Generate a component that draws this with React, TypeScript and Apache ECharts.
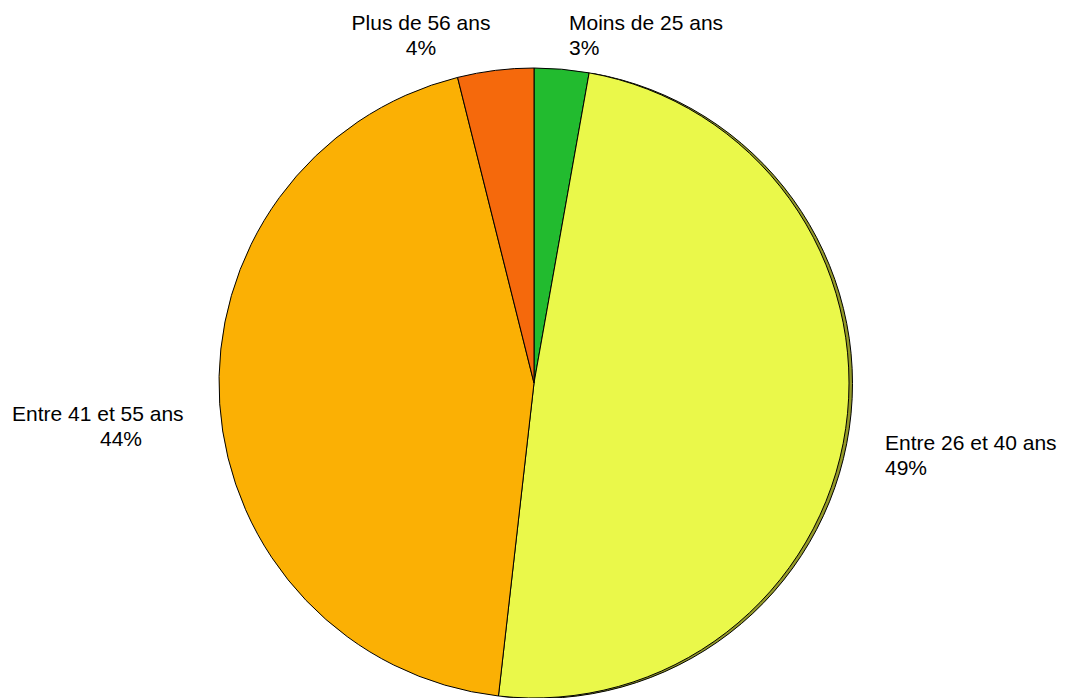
import React, { useEffect, useRef } from "react";
import * as echarts from "echarts";

const categories = ["Moins de 25 ans", "Entre 26 et 40 ans", "Entre 41 et 55 ans", "Plus de 56 ans"];
const values = [2.8, 49.0, 44.3, 3.9];
const colors = ["#22bb2f", "#eaf84a", "#fbb004", "#f5690c"];
// label anchor positions [x, y, align]
const labelPos: [number, number, string][] = [
  [569, 22, "left"],
  [885, 442, "left"],
  [12, 413, "left"],
  [421, 22, "center"],
];

export default function App() {
  const ref = useRef<HTMLDivElement>(null);
  useEffect(() => {
    const chart = echarts.init(ref.current!, null, { renderer: "svg" });
    const cx = 534;
    const cy = 383;
    const r = 315;
    const font = "Liberation Sans, Arial, sans-serif";
    chart.setOption({
      animation: false,
      backgroundColor: "#ffffff",
      series: [
        {
          type: "pie",
          silent: true,
          center: [cx + 3.5, cy + 0.5],
          radius: r,
          startAngle: 90,
          clockwise: true,
          label: { show: false },
          labelLine: { show: false },
          data: categories.map((c, i) => ({
            name: c,
            value: values[i],
            itemStyle:
              i === 1
                ? { color: "#959a28", borderColor: "#000", borderWidth: 1 }
                : { color: "rgba(0,0,0,0)", borderWidth: 0 },
          })),
          z: 1,
        },
        {
          type: "pie",
          center: [cx, cy],
          radius: r,
          startAngle: 90,
          clockwise: true,
          z: 2,
          itemStyle: { borderColor: "#000", borderWidth: 1 },
          labelLine: { show: false },
          label: {
            show: true,
            position: "outside",
            fontFamily: font,
            fontSize: 21,
            color: "#000",
            lineHeight: 25,
            overflow: "none",
            width: 400,
            alignTo: "none",
            formatter: (p: any) => {
              if (p.dataIndex === 2) return `${p.name}\n{pad|}${Math.round(p.percent)}%`;
              return `${p.name}\n${Math.round(p.percent)}%`;
            },
            rich: {
              pad: { width: 88, fontSize: 21, lineHeight: 25 },
            },
          },
          labelLayout: (params: any) => {
            const [x, y, align] = labelPos[params.dataIndex];
            return { x, y: y - 12, align, verticalAlign: "top", hideOverlap: false, moveOverlap: null };
          },
          data: categories.map((c, i) => ({
            name: c,
            value: values[i],
            itemStyle: { color: colors[i] },
            label: { align: labelPos[i][2] },
          })),
        },
      ],
    });
    return () => chart.dispose();
  }, []);
  return <div ref={ref} style={{ width: 1067, height: 698, position: "absolute", left: 0, top: 0 }} />;
}
